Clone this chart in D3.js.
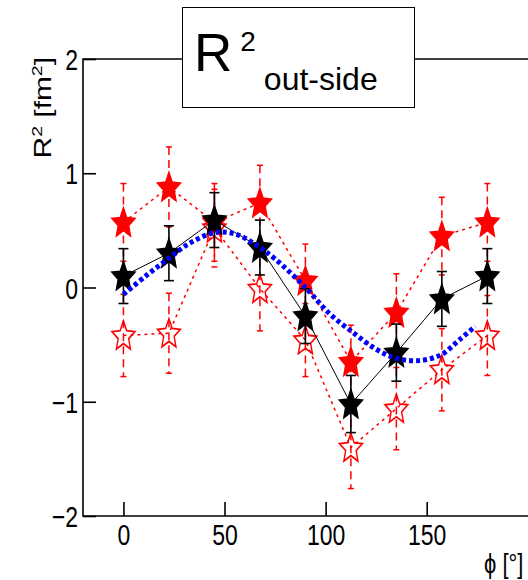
<!DOCTYPE html>
<html>
<head>
<meta charset="utf-8">
<script src="https://cdn.jsdelivr.net/npm/d3@7"></script>
<style>
  body { margin: 0; background: #fff; }
  svg { display: block; font-family: "Liberation Sans", Arial, sans-serif; }
</style>
</head>
<body>
<div id="chart"></div>
<script>
// phi bins (degrees)
const phi = [0, 22.5, 45, 67.5, 90, 112.5, 135, 157.5, 180];

// black filled stars
const blackVal = [0.10, 0.30, 0.59, 0.35, -0.25, -1.02, -0.57, -0.10, 0.10];
const blackErr = [0.24, 0.24, 0.24, 0.24, 0.24, 0.25, 0.25, 0.24, 0.24];

// red filled stars
const redFillVal = [0.57, 0.88, 0.57, 0.74, 0.06, -0.65, -0.22, 0.45, 0.57];
const redFillErr = [0.34, 0.35, 0.34, 0.33, 0.32, 0.32, 0.34, 0.34, 0.34];

// red open stars
const redOpenVal = [-0.42, -0.40, 0.52, -0.01, -0.46, -1.40, -1.06, -0.72, -0.42];
const redOpenErr = [0.36, 0.35, 0.34, 0.37, 0.32, 0.36, 0.36, 0.36, 0.35];

// blue dotted fit curve
const fitPhi = [0, 11, 22, 33, 45, 55, 65, 75, 90, 102, 114, 125, 135, 146, 157, 166, 174];
const fitVal = [-0.06, 0.10, 0.25, 0.39, 0.48, 0.47, 0.38, 0.25, 0.0, -0.23, -0.40, -0.54, -0.62, -0.64, -0.59, -0.46, -0.34];

const xTicks = [0, 50, 100, 150];
const yTicks = [-2, -1, 0, 1, 2];

const width = 528, height = 580;

const svg = d3.select("#chart").append("svg")
    .attr("width", width)
    .attr("height", height);

const x = d3.scaleLinear().domain([-20, 210]).range([83, 548]);
const y = d3.scaleLinear().domain([-2, 2]).range([516, 59]);

// frame (right side runs off the picture)
svg.append("path")
    .attr("d", `M${width + 5},${y(2)} H${x(-20)} V${y(-2)} H${width + 5}`)
    .attr("fill", "none")
    .attr("stroke", "#000")
    .attr("stroke-width", 1.6);

// axes - labels are drawn a bit taller than wide, like the original
const yAxis = svg.append("g")
    .attr("transform", `translate(${x(-20)},0)`)
    .call(d3.axisLeft(y).tickValues(yTicks).tickSize(-13).tickPadding(5).tickFormat(d => d < 0 ? "\u2212" + Math.abs(d) : d));
yAxis.select(".domain").remove();
yAxis.selectAll("line").attr("stroke-width", 1.6);
yAxis.selectAll("text")
    .attr("font-size", 23).attr("fill", "#000")
    .attr("font-family", "Liberation Sans, Arial, sans-serif")
    .attr("transform", "translate(0,1) scale(1,1.3)");

const xAxis = svg.append("g")
    .attr("transform", `translate(0,${y(-2)})`)
    .call(d3.axisBottom(x).tickValues(xTicks).tickSize(-14));
xAxis.select(".domain").remove();
xAxis.selectAll("line").attr("stroke-width", 1.6);
xAxis.selectAll("text")
    .attr("font-size", 23).attr("fill", "#000")
    .attr("font-family", "Liberation Sans, Arial, sans-serif")
    .attr("y", 0).attr("dy", "0.71em")
    .attr("transform", "translate(0,8) scale(1,1.3)");

// axis titles
const yTitle = svg.append("text")
    .attr("transform", `translate(51,57) rotate(-90) scale(1.3,1)`)
    .attr("text-anchor", "end")
    .attr("font-size", 23);
yTitle.append("tspan").text("R");
yTitle.append("tspan").attr("font-size", 15).attr("dy", -9).text("2");
yTitle.append("tspan").attr("dy", 9).text(" [fm");
yTitle.append("tspan").attr("font-size", 15).attr("dy", -9).text("2");
yTitle.append("tspan").attr("dy", 9).text("]");

svg.append("text")
    .attr("transform", "translate(484,573) scale(1,1.25)")
    .attr("font-size", 22)
    .text("\u03d5 [\u00b0]");

// star marker
function starPath(R, r) {
    const pts = [];
    for (let i = 0; i < 10; i++) {
        const a = -Math.PI / 2 + i * Math.PI / 5;
        const rad = i % 2 === 0 ? R : r;
        pts.push([rad * Math.cos(a), rad * Math.sin(a)]);
    }
    return "M" + pts.map(p => p.join(",")).join("L") + "Z";
}
const star = starPath(12, 5.5);

function series(vals, errs, opts) {
    const data = phi.map((p, i) => ({ p: p, v: vals[i], e: errs[i] }));
    const g = svg.append("g");

    g.append("path")
        .datum(data)
        .attr("fill", "none")
        .attr("stroke", opts.color)
        .attr("stroke-width", opts.lineWidth)
        .attr("stroke-dasharray", opts.lineDash)
        .attr("d", d3.line().x(d => x(d.p)).y(d => y(d.v)));

    const eb = g.selectAll(".err").data(data).enter().append("g");
    eb.append("line")
        .attr("x1", d => x(d.p)).attr("x2", d => x(d.p))
        .attr("y1", d => y(d.v + d.e)).attr("y2", d => y(d.v - d.e))
        .attr("stroke", opts.color)
        .attr("stroke-width", opts.errWidth)
        .attr("stroke-dasharray", opts.errDash);
    [1, -1].forEach(s => {
        eb.append("line")
            .attr("x1", d => x(d.p) - opts.cap).attr("x2", d => x(d.p) + opts.cap)
            .attr("y1", d => y(d.v + s * d.e)).attr("y2", d => y(d.v + s * d.e))
            .attr("stroke", opts.color)
            .attr("stroke-width", opts.errWidth);
    });

    g.selectAll(".marker").data(data).enter().append("path")
        .attr("d", star)
        .attr("transform", d => `translate(${x(d.p)},${y(d.v) + 1}) scale(1,1.3)`)
        .attr("fill", opts.filled ? opts.color : "none")
        .attr("stroke", opts.color)
        .attr("stroke-width", 1.4);
}

series(redOpenVal, redOpenErr, { color: "#ff0000", filled: false, lineWidth: 1.5, lineDash: "3,4", errWidth: 1.5, errDash: "8,5", cap: 3 });
series(redFillVal, redFillErr, { color: "#ff0000", filled: true, lineWidth: 1.5, lineDash: "3,4", errWidth: 1.5, errDash: "8,5", cap: 3 });
series(blackVal, blackErr, { color: "#000", filled: true, lineWidth: 1, lineDash: null, errWidth: 1.6, errDash: null, cap: 5 });

// blue fit
svg.append("path")
    .datum(fitPhi.map((p, i) => [p, fitVal[i]]))
    .attr("fill", "none")
    .attr("stroke", "#0000ff")
    .attr("stroke-width", 5)
    .attr("stroke-dasharray", "4,3")
    .attr("d", d3.line().x(d => x(d[0])).y(d => y(d[1])).curve(d3.curveCatmullRom));

// title box
svg.append("rect")
    .attr("x", 182.5).attr("y", 7.5)
    .attr("width", 232).attr("height", 100)
    .attr("fill", "#fff")
    .attr("stroke", "#000")
    .attr("stroke-width", 1);
const title = svg.append("text").attr("x", 194).attr("y", 71);
title.append("tspan").attr("font-size", 53).text("R");
title.append("tspan").attr("font-size", 28).attr("dx", 8).attr("dy", -20).text("2");
title.append("tspan").attr("font-size", 32).attr("dx", 8).attr("dy", 39).text("out-side");
</script>
</body>
</html>
